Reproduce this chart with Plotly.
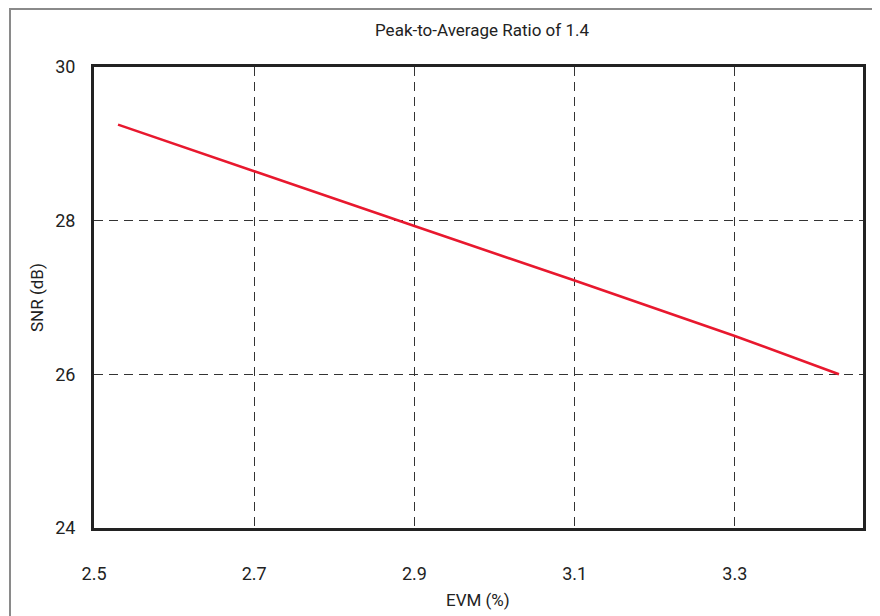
import plotly.graph_objects as go

evm = [2.53, 2.70, 2.90, 3.10, 3.30, 3.43]
snr = [29.25, 28.64, 27.93, 27.22, 26.50, 26.00]
x_ticks = [2.5, 2.7, 2.9, 3.1, 3.3]
y_ticks = [24, 26, 28, 30]

FONT = "Roboto, Arial, sans-serif"

fig = go.Figure(go.Scatter(x=evm, y=snr, mode="lines",
                           line=dict(color="#e8182e", width=2.6),
                           showlegend=False, hoverinfo="skip"))

OFF = 8  # page body margin
W, H = 880 - OFF, 616 - OFF
# target plot area in page pixels
PL, PR, PT, PB = 94, 863, 67, 528
L, R, T, B = PL - OFF, 880 - PR, PT - OFF, 616 - PB
pw, ph = PR - PL, PB - PT

def px(xp):
    return (xp - PL) / pw

def py(yp):
    return (PB - yp) / ph

fig.update_layout(
    width=W, height=H,
    margin=dict(l=L, r=R, t=T, b=B),
    paper_bgcolor="white", plot_bgcolor="white",
    font=dict(family=FONT, size=18, color="#222"),
    xaxis=dict(range=[2.5, 3.46], tickvals=x_ticks, ticktext=[f"{v:.1f}" for v in x_ticks],
               showline=True, linecolor="#222", linewidth=3, mirror=True,
               showgrid=True, gridcolor="#333", gridwidth=1, griddash="9px,6px",
               zeroline=False, ticks="", ticklabelstandoff=27),
    yaxis=dict(range=[24, 30], tickvals=y_ticks, ticktext=[str(v) for v in y_ticks],
               showline=True, linecolor="#222", linewidth=3, mirror=True,
               showgrid=True, gridcolor="#333", gridwidth=1, griddash="9px,6px",
               zeroline=False, ticks="", ticklabelstandoff=12),
    shapes=[dict(type="rect", xref="paper", yref="paper",
                 x0=px(10), x1=px(876), y0=py(660), y1=py(9),
                 line=dict(color="#8a8a8a", width=2), layer="below")],
    annotations=[
        dict(text="Peak-to-Average Ratio of 1.4", xref="paper", yref="paper",
             x=px(482), y=py(30), showarrow=False, font=dict(size=17), yanchor="middle"),
        dict(text="EVM (%)", xref="paper", yref="paper",
             x=px(478), y=py(600), showarrow=False, font=dict(size=17), yanchor="middle"),
        dict(text="SNR (dB)", xref="paper", yref="paper",
             x=px(37), y=py(298), showarrow=False, font=dict(size=17),
             textangle=-90, xanchor="center", yanchor="middle"),
    ],
)

fig.write_html("out.html")
